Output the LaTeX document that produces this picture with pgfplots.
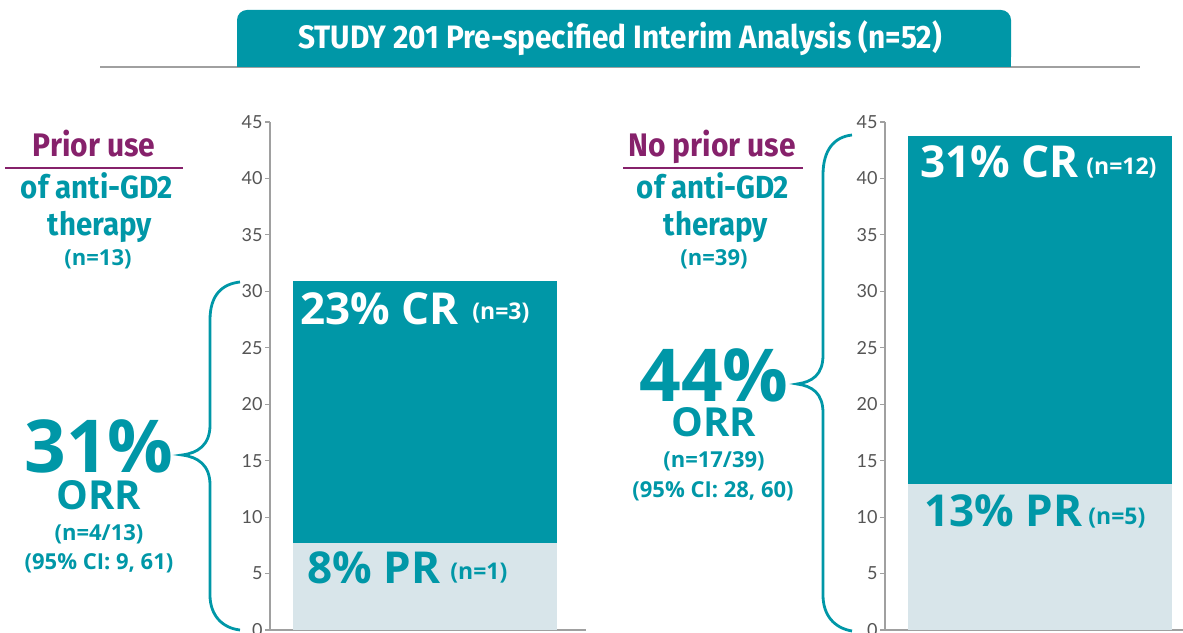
\documentclass[border=0pt]{standalone}
\usepackage{fontspec}
\setmainfont{Open Sans}
\newfontfamily\fira[FakeStretch=0.92]{Fira Sans}
\newfontfamily\lato{Lato}
\usepackage{pgfplots}
\pgfplotsset{compat=1.18}
\definecolor{tealc}{RGB}{0,151,167}
\definecolor{lightbar}{RGB}{216,229,234}
\definecolor{purp}{RGB}{134,33,107}
\definecolor{axgray}{RGB}{160,160,160}
\definecolor{tickgray}{RGB}{85,85,85}
\newcommand{\fs}[1]{\fontsize{#1}{#1}\selectfont}
\pgfplotsset{
  panel/.style={
    scale only axis, width=158pt, height=254pt,
    anchor=south west,
    xmin=0, xmax=1, ymin=0, ymax=45,
    ytick={0,5,...,45}, xtick=\empty,
    axis x line*=bottom, axis y line*=left,
    axis line style={axgray, line width=0.8pt},
    major tick length=2.5pt, tick align=outside,
    every tick/.style={axgray, line width=0.6pt},
    /pgf/number format/assume math mode=true,
    yticklabel style={font=\lato\fs{9}, text=tickgray, inner sep=1pt},
    ybar stacked, bar width=132pt,
    clip=false,
  }
}
\begin{document}
\begin{tikzpicture}
\useasboundingbox (0,0) rectangle (591.5pt,316pt);
\clip (0,0) rectangle (591.5pt,316pt);
% left panel
\begin{axis}[panel, at={(135pt,1pt)}]
\addplot[fill=lightbar, draw=none] coordinates {(0.4905,7.7)};
\addplot[fill=tealc, draw=none] coordinates {(0.4905,23.2)};
\end{axis}
% right panel
\begin{axis}[panel, at={(442.5pt,1pt)}]
\addplot[fill=lightbar, draw=none] coordinates {(0.4905,12.9)};
\addplot[fill=tealc, draw=none] coordinates {(0.4905,30.9)};
\end{axis}
\begin{scope}[x=0.5pt, y=-0.5pt, yshift=316pt]
% header
\draw[axgray, line width=1pt] (100,67) -- (1140,67);
\fill[tealc, rounded corners=5pt] (237,67) -- (237,10) -- (1011,10) -- (1011,67) -- cycle;
\fill[tealc] (237,40) rectangle (1011,67);
\node[anchor=base, text=white, inner sep=0] at (620,49) {\fira\bfseries\fs{16.2}STUDY 201 Pre-specified Interim Analysis (n=52)};
% left headings
\node[anchor=base, text=purp, inner sep=0] at (94,157) {\fira\bfseries\fs{16.3}Prior use};
\draw[purp, line width=1pt] (5,168) -- (183,168);
\node[anchor=base, text=tealc, inner sep=0] at (97,199) {\fira\bfseries\fs{16}of anti-GD2};
\node[anchor=base, text=tealc, inner sep=0] at (100,236) {\fira\bfseries\fs{16}therapy};
\node[anchor=center, text=tealc, inner sep=0] at (98,259) {\bfseries\fs{11}(n=13)};
% left ORR
\node[anchor=base, text=tealc, inner sep=0] at (99,473) {\fs{36.5}\bfseries 31\%};
\node[anchor=base, text=tealc, inner sep=0] at (99,510) {\bfseries\fs{20}ORR};
\node[anchor=center, text=tealc, inner sep=0] at (99,534) {\bfseries\fs{11}(n=4/13)};
\node[anchor=center, text=tealc, inner sep=0] at (99,563) {\bfseries\fs{11}(95\% CI: 9, 61)};
\draw[tealc, line width=1.4pt] (240,282) .. controls (222,284) and (210,295) .. (210,320) -- (210,425) .. controls (210,445) and (198,453) .. (182,455) .. controls (198,457) and (210,465) .. (210,485) -- (210,595) .. controls (210,615) and (222,628) .. (240,630);
% right headings
\node[anchor=base, text=purp, inner sep=0] at (712,157) {\fira\bfseries\fs{16.3}No prior use};
\draw[purp, line width=1pt] (623,168) -- (803,168);
\node[anchor=base, text=tealc, inner sep=0] at (713,199) {\fira\bfseries\fs{16}of anti-GD2};
\node[anchor=base, text=tealc, inner sep=0] at (716,236) {\fira\bfseries\fs{16}therapy};
\node[anchor=center, text=tealc, inner sep=0] at (714,259) {\bfseries\fs{11}(n=39)};
% right ORR
\node[anchor=base, text=tealc, inner sep=0] at (714,402) {\fs{36.5}\bfseries 44\%};
\node[anchor=base, text=tealc, inner sep=0] at (714,437) {\bfseries\fs{20}ORR};
\node[anchor=center, text=tealc, inner sep=0] at (714,461) {\bfseries\fs{11}(n=17/39)};
\node[anchor=center, text=tealc, inner sep=0] at (713,491) {\bfseries\fs{11}(95\% CI: 28, 60)};
\draw[tealc, line width=1.4pt] (852,135) .. controls (834,137) and (823,150) .. (823,175) -- (823,355) .. controls (823,375) and (812,382) .. (797,384) .. controls (812,386) and (823,393) .. (823,413) -- (823,595) .. controls (823,615) and (834,628) .. (852,631);
% bar labels
\node[anchor=base west, text=white, inner sep=0] at (300,325) {\bfseries\fs{22}23\% CR};
\node[anchor=west, text=white, inner sep=0] at (472,313) {\bfseries\fs{11.5}(n=3)};
\node[anchor=base west, text=tealc, inner sep=0] at (307,583) {\bfseries\fs{22}8\% PR};
\node[anchor=west, text=tealc, inner sep=0] at (450,573) {\bfseries\fs{11.5}(n=1)};
\node[anchor=base west, text=white, inner sep=0] at (920,178) {\bfseries\fs{22}31\% CR};
\node[anchor=west, text=white, inner sep=0] at (1086,168) {\bfseries\fs{11.5}(n=12)};
\node[anchor=base west, text=tealc, inner sep=0] at (924,527) {\bfseries\fs{22}13\% PR};
\node[anchor=west, text=tealc, inner sep=0] at (1088,518) {\bfseries\fs{11.5}(n=5)};
\end{scope}
\end{tikzpicture}
\end{document}
